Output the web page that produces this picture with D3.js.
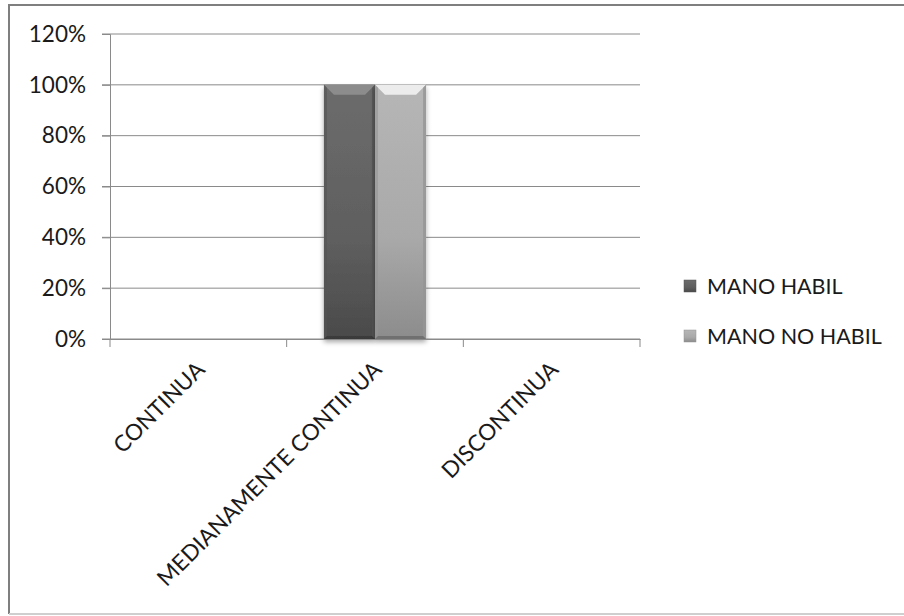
<!DOCTYPE html>
<html>
<head>
<meta charset="utf-8">
<script src="https://cdn.jsdelivr.net/npm/d3@7"></script>
<style>
  body { margin: 0; background: #fff; }
  text { font-family: Lato, "Open Sans", sans-serif; fill: #1a1a1a; }
</style>
</head>
<body>
<div id="chart"></div>
<script>
var categories = ["CONTINUA", "MEDIANAMENTE CONTINUA", "DISCONTINUA"];
var seriesNames = ["MANO HABIL", "MANO NO HABIL"];
var manoHabil = [0, 1, 0];
var manoNoHabil = [0, 1, 0];
var yTicks = [0, 0.2, 0.4, 0.6, 0.8, 1.0, 1.2];

var W = 904, H = 616;
var margin = {top: 34, left: 110, right: 264, bottom: 277};
var width = W - margin.left - margin.right,
    height = H - margin.top - margin.bottom;

var svg = d3.select("#chart").append("svg")
    .attr("width", W).attr("height", H);

var defs = svg.append("defs");
var colors = [
  {body: ["#6c6c6c", "#5f5f5f", "#4a4a4a"], top: "#8c8c8c", side: "#555555"},
  {body: ["#b6b6b6", "#a9a9a9", "#8c8c8c"], top: "#ececec", side: "#959595"}
];
colors.forEach(function(c, i) {
  var g = defs.append("linearGradient").attr("id", "grad" + i)
    .attr("x1", 0).attr("y1", 0).attr("x2", 0).attr("y2", 1);
  g.append("stop").attr("offset", "0%").attr("stop-color", c.body[0]);
  g.append("stop").attr("offset", "60%").attr("stop-color", c.body[1]);
  g.append("stop").attr("offset", "100%").attr("stop-color", c.body[2]);
});
var sh = defs.append("filter").attr("id", "shadow")
  .attr("x", "-20%").attr("y", "-10%").attr("width", "140%").attr("height", "130%");
sh.append("feDropShadow").attr("dx", 0).attr("dy", 3).attr("stdDeviation", 2.5)
  .attr("flood-color", "#000").attr("flood-opacity", 0.35);

// frame
svg.append("line").attr("x1", 9).attr("x2", W).attr("y1", 5).attr("y2", 5)
  .attr("stroke", "#7f7f7f").attr("stroke-width", 2);
svg.append("line").attr("x1", 9).attr("x2", 9).attr("y1", 4).attr("y2", 614)
  .attr("stroke", "#7f7f7f").attr("stroke-width", 2);
svg.append("line").attr("x1", 9).attr("x2", W).attr("y1", 614).attr("y2", 614)
  .attr("stroke", "#cfcfcf").attr("stroke-width", 2);

var g = svg.append("g")
  .attr("transform", "translate(" + margin.left + "," + margin.top + ")");

var x = d3.scaleBand().domain(categories).range([0, width]);
var x1 = d3.scaleBand().domain(seriesNames).range([0, x.bandwidth()]).paddingOuter(0.73);
var y = d3.scaleLinear().domain([0, 1.2]).range([height, 0]);

// gridlines
g.append("g")
  .selectAll("line").data(yTicks).join("line")
    .attr("x1", -8).attr("x2", width)
    .attr("y1", function(d) { return y(d); }).attr("y2", function(d) { return y(d); })
    .attr("stroke", "#8a8a8a").attr("stroke-width", 1);

// y axis
var yAxis = g.append("g")
  .call(d3.axisLeft(y).tickValues(yTicks).tickFormat(d3.format(".0%")).tickSize(8).tickPadding(16));
yAxis.select(".domain").attr("stroke", "#8a8a8a");
yAxis.selectAll(".tick line").attr("stroke", "#8a8a8a");
yAxis.selectAll("text").attr("font-size", 22.5).attr("font-family", "Lato, sans-serif").attr("fill", "#1a1a1a");

// bars
var rows = categories.map(function(c, i) {
  return {cat: c, vals: [manoHabil[i], manoNoHabil[i]]};
});
var bars = g.append("g").selectAll("g").data(rows).join("g")
  .attr("transform", function(d) { return "translate(" + x(d.cat) + ",0)"; });
bars.each(function(d) {
  var sel = d3.select(this);
  d.vals.forEach(function(v, i) {
    if (v <= 0) return;
    var bx = x1(seriesNames[i]), bw = x1.bandwidth(), by = y(v), bh = y(0) - y(v);
    var c = colors[i], bev = 10;
    var bg = sel.append("g");
    bg.append("rect").attr("x", bx).attr("y", by).attr("width", bw).attr("height", bh)
      .attr("fill", "url(#grad" + i + ")").attr("filter", "url(#shadow)");
    bg.append("path")
      .attr("d", "M" + bx + "," + by + "L" + (bx + bw) + "," + by + "L" + (bx + bw - bev) + "," + (by + bev) +
        "L" + (bx + bev) + "," + (by + bev) + "Z")
      .attr("fill", c.top);
    bg.append("path")
      .attr("d", "M" + bx + "," + by + "L" + (bx + 3) + "," + (by + 3) + "L" + (bx + 3) + "," + (by + bh - 3) +
        "L" + bx + "," + (by + bh) + "Z").attr("fill", c.side).attr("opacity", 0.6);
    bg.append("path")
      .attr("d", "M" + (bx + bw) + "," + by + "L" + (bx + bw - 3) + "," + (by + 3) + "L" + (bx + bw - 3) + "," + (by + bh - 3) +
        "L" + (bx + bw) + "," + (by + bh) + "Z").attr("fill", c.side).attr("opacity", 0.8);
    bg.append("path")
      .attr("d", "M" + bx + "," + (by + bh) + "L" + (bx + 3) + "," + (by + bh - 3) + "L" + (bx + bw - 3) + "," + (by + bh - 3) +
        "L" + (bx + bw) + "," + (by + bh) + "Z").attr("fill", "#000").attr("opacity", 0.2);
  });
});

// x axis
var xAxis = g.append("g").attr("transform", "translate(0," + height + ")")
  .call(d3.axisBottom(x).tickSize(0).tickFormat(""));
xAxis.select(".domain").attr("stroke", "#8a8a8a");
var xt = [0, 1, 2, 3].map(function(i) { return i * x.step(); });
xAxis.selectAll(".sep").data(xt).join("line").attr("class", "sep")
  .attr("x1", function(d) { return d; }).attr("x2", function(d) { return d; })
  .attr("y1", 0).attr("y2", 8).attr("stroke", "#8a8a8a");

g.append("g").selectAll("text").data(categories).join("text")
  .attr("transform", function(d) {
    return "translate(" + (x(d) + x.bandwidth() / 2 + 8) + "," + (height + 32) + ") rotate(-45)";
  })
  .attr("text-anchor", "end")
  .attr("font-size", 22.5)
  .text(function(d) { return d; });

// legend
var legend = svg.append("g").attr("transform", "translate(684,286)");
var li = legend.selectAll("g").data(seriesNames).join("g")
  .attr("transform", function(d, i) { return "translate(0," + i * 50 + ")"; });
li.append("rect").attr("x", 0).attr("y", -6).attr("width", 12).attr("height", 12)
  .attr("fill", function(d, i) { return "url(#grad" + i + ")"; })
  .attr("stroke", function(d, i) { return colors[i].side; }).attr("stroke-width", 0.5);
li.append("text").attr("x", 23).attr("dy", "0.35em").attr("font-size", 21.5)
  .text(function(d) { return d; });
</script>
</body>
</html>
